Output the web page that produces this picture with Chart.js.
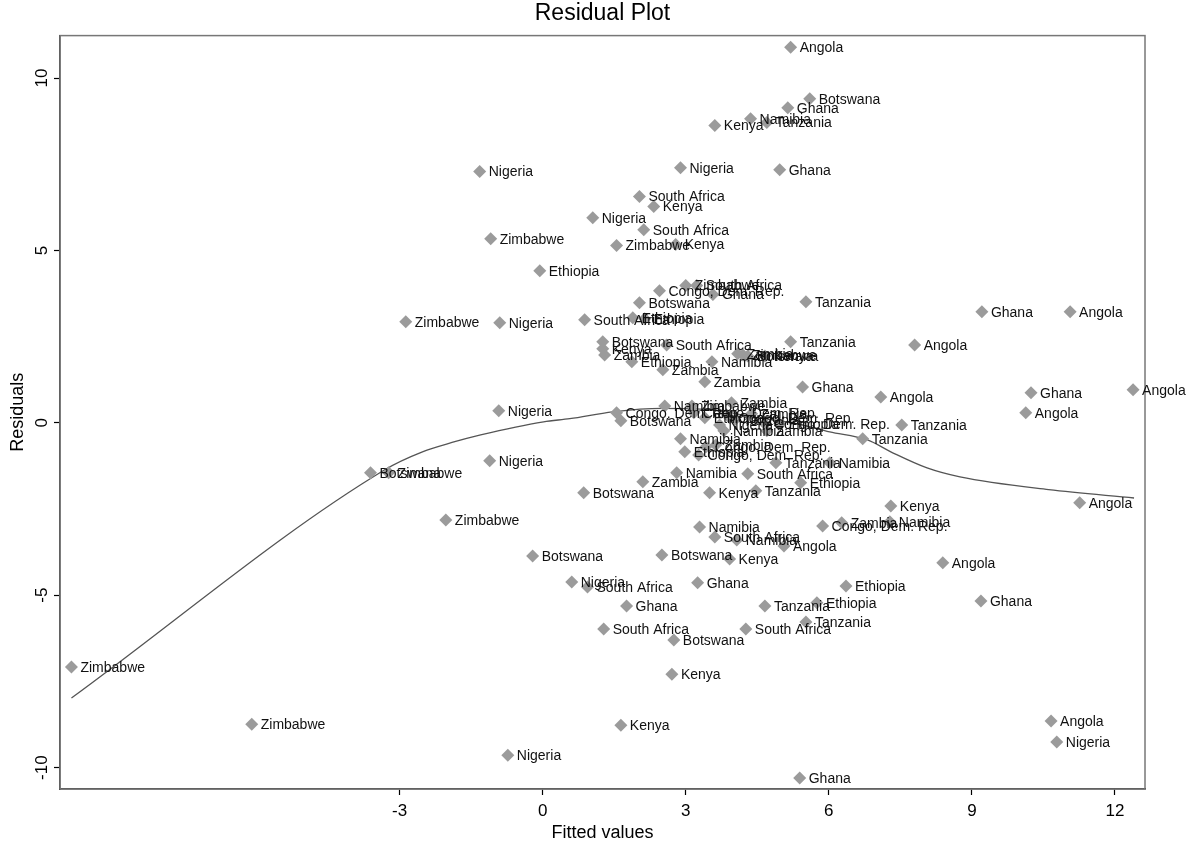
<!DOCTYPE html>
<html>
<head>
<meta charset="utf-8">
<script src="https://cdn.jsdelivr.net/npm/chart.js@4/dist/chart.umd.min.js"></script>
<style>
  html, body { margin: 0; padding: 0; background: #fff; }
  #residChart { display: block; }
</style>
</head>
<body>
<canvas id="residChart" width="1188" height="845"></canvas>
<script>
// Residual plot: fitted values vs residuals, labelled by country, with lowess smoother

const countries = ['Angola', 'Botswana', 'Congo, Dem. Rep.', 'Ethiopia', 'Ghana', 'Kenya',
  'Namibia', 'Nigeria', 'South Africa', 'Tanzania', 'Zambia', 'Zimbabwe'];

const angolaFit = [5.20, 11.06, 7.80, 7.09, 10.13, 12.38, 11.26, 8.39, 10.66, 5.06];
const angolaRes = [10.89, 3.22, 2.26, 0.75, 0.29, 0.96, -2.32, -4.06, -8.65, -3.57];

const botswanaFit = [5.60, 2.03, 1.26, 1.64, -3.61, 0.86, -0.21, 2.50, 2.75, 4.30];
const botswanaRes = [9.40, 3.48, 2.35, 0.06, -1.45, -2.03, -3.86, -3.83, -6.30, 1.94];

const congoFit = [2.45, 1.55, 3.17, 4.66, 5.87, 3.27, 3.42, 3.92];
const congoRes = [3.83, 0.29, 0.29, -0.03, -2.99, -0.93, -0.70, 0.15];

const ethiopiaFit = [-0.06, 1.89, 2.14, 1.87, 5.41, 6.36, 5.75, 3.40, 4.97, 2.98];
const ethiopiaRes = [4.41, 3.05, 3.02, 1.77, -1.74, -4.73, -5.22, 0.15, -0.03, -0.84];

const ghanaFit = [5.14, 4.97, 3.57, 9.21, 5.45, 10.24, 3.25, 1.76, 9.19, 5.39];
const ghanaRes = [9.14, 7.34, 3.72, 3.22, 1.04, 0.87, -4.64, -5.31, -5.17, -10.30];

const kenyaFit = [3.61, 2.33, 2.79, 1.26, 7.30, 3.50, 3.92, 2.71, 1.64, 4.66];
const kenyaRes = [8.62, 6.27, 5.17, 2.15, -2.41, -2.03, -3.95, -7.29, -8.77, 1.94];

const namibiaFit = [4.36, 3.55, 2.56, 3.80, 2.89, 6.02, 2.81, 3.29, 4.07, 7.28];
const namibiaRes = [8.82, 1.77, 0.49, -0.23, -0.46, -1.16, -1.45, -3.02, -3.40, -2.87];

const nigeriaFit = [-1.32, 2.89, 1.05, -0.90, -0.92, -1.11, -0.73, 0.61, 10.78, 3.71];
const nigeriaRes = [7.29, 7.40, 5.95, 2.90, 0.35, -1.10, -9.64, -4.62, -9.26, -0.06];

const southAfricaFit = [2.03, 2.12, 3.23, 0.88, 2.60, 4.30, 3.61, 0.94, 1.28, 4.26];
const southAfricaRes = [6.56, 5.60, 3.98, 2.99, 2.26, -1.48, -3.31, -4.76, -5.98, -5.98];

const tanzaniaFit = [4.70, 5.52, 5.20, 7.53, 6.71, 4.89, 4.47, 4.66, 5.52, 4.03];
const tanzaniaRes = [8.71, 3.51, 2.35, -0.06, -0.46, -1.16, -1.97, -5.31, -5.78, 0.09];

const zambiaFit = [1.30, 2.52, 3.40, 3.96, 4.70, 2.10, 6.27, 4.09, 3.63, 4.38];
const zambiaRes = [1.97, 1.54, 1.19, 0.58, -0.23, -1.71, -2.90, 2.00, -0.64, 0.26];

const zimbabweFit = [-1.09, 1.55, 3.00, -2.87, -3.23, -2.03, -9.88, -6.10, 3.13, 4.20];
const zimbabweRes = [5.34, 5.14, 3.98, 2.93, -1.45, -2.82, -7.08, -8.74, 0.49, 1.97];

// lowess smoother
const lowessFit = [-9.88, -3.31, -2.52, -1.90, -1.30, 0.02, 0.57, 1.47, 2.50, 3.50, 4.50, 5.30, 6.02, 6.80, 7.34, 8.06, 8.75, 10.61, 12.40];
const lowessRes = [-7.98, -1.36, -0.84, -0.57, -0.35, 0.03, 0.12, 0.32, 0.42, 0.38, 0.15, -0.02, -0.26, -0.49, -0.87, -1.31, -1.57, -1.94, -2.18];

const xTicks = [-3, 0, 3, 6, 9, 12];
const yTicks = [-10, -5, 0, 5, 10];

const fitted = [angolaFit, botswanaFit, congoFit, ethiopiaFit, ghanaFit, kenyaFit,
  namibiaFit, nigeriaFit, southAfricaFit, tanzaniaFit, zambiaFit, zimbabweFit];
const resid = [angolaRes, botswanaRes, congoRes, ethiopiaRes, ghanaRes, kenyaRes,
  namibiaRes, nigeriaRes, southAfricaRes, tanzaniaRes, zambiaRes, zimbabweRes];

const FONT = '"Liberation Sans", Arial, Helvetica, sans-serif';

const datasets = countries.map((name, i) => ({
  type: 'scatter',
  label: name,
  data: fitted[i].map((x, j) => ({ x: x, y: resid[i][j] })),
  pointStyle: 'rectRot',
  pointRadius: 6.5,
  pointBackgroundColor: '#9b9b9b',
  pointBorderWidth: 0,
  clip: false,
  order: 0
}));

datasets.push({
  type: 'line',
  label: 'lowess',
  data: lowessFit.map((x, j) => ({ x: x, y: lowessRes[j] })),
  borderColor: '#555',
  borderWidth: 1.3,
  pointRadius: 0,
  fill: false,
  cubicInterpolationMode: 'monotone',
  order: 1
});

// tulis nama negara di samping tiap titik
const pointLabels = {
  id: 'pointLabels',
  afterDatasetsDraw(chart) {
    const ctx = chart.ctx;
    ctx.save();
    ctx.font = '14px ' + FONT;
    ctx.fillStyle = '#111';
    ctx.textBaseline = 'middle';
    ctx.textAlign = 'left';
    chart.data.datasets.forEach((ds, i) => {
      if (ds.type === 'line') return;
      chart.getDatasetMeta(i).data.forEach(pt => {
        ctx.fillText(ds.label, pt.x + 9, pt.y + 1);
      });
    });
    ctx.restore();
  }
};

// kotak di sekeliling area plot
const plotBox = {
  id: 'plotBox',
  beforeDatasetsDraw(chart) {
    const a = chart.chartArea;
    const ctx = chart.ctx;
    ctx.save();
    ctx.strokeStyle = '#777';
    ctx.lineWidth = 1.5;
    ctx.strokeRect(a.left, a.top, a.right - a.left, a.bottom - a.top);
    ctx.restore();
  }
};

new Chart(document.getElementById('residChart').getContext('2d'), {
  type: 'scatter',
  data: { datasets: datasets },
  plugins: [plotBox, pointLabels],
  options: {
    responsive: false,
    animation: false,
    devicePixelRatio: 1,
    layout: { padding: { top: 0, right: 43, bottom: 0, left: 0 } },
    plugins: {
      legend: { display: false },
      tooltip: { enabled: false },
      title: {
        display: true,
        fullSize: false,
        text: 'Residual Plot',
        color: '#000',
        font: { family: FONT, size: 23, weight: 'normal' },
        padding: { top: 0, bottom: 8 }
      }
    },
    scales: {
      x: {
        type: 'linear',
        min: -10.12,
        max: 12.63,
        afterBuildTicks: s => { s.ticks = xTicks.map(v => ({ value: v })); },
        afterFit: s => { s.height = 56; },
        grid: { drawOnChartArea: false, drawTicks: true, tickLength: 6, tickColor: '#000', tickWidth: 1.2 },
        border: { display: true, color: '#222', width: 1.5 },
        ticks: { color: '#000', padding: 6, font: { family: FONT, size: 17 }, maxRotation: 0, autoSkip: false },
        title: {
          display: true,
          text: 'Fitted values',
          color: '#000',
          font: { family: FONT, size: 18 },
          padding: { top: 0, bottom: 1 }
        }
      },
      y: {
        type: 'linear',
        min: -10.62,
        max: 11.23,
        afterBuildTicks: s => { s.ticks = yTicks.map(v => ({ value: v })); },
        afterFit: s => { s.width = 60; },
        grid: { drawOnChartArea: false, drawTicks: true, tickLength: 6, tickColor: '#000', tickWidth: 1.2 },
        border: { display: true, color: '#222', width: 1.5 },
        ticks: {
          color: '#000', padding: -1, minRotation: 90, maxRotation: 90,
          crossAlign: 'center', autoSkip: false,
          font: { family: FONT, size: 17 }
        },
        title: {
          display: true,
          text: 'Residuals',
          color: '#000',
          font: { family: FONT, size: 18 },
          padding: { top: 7, bottom: 0 }
        }
      }
    }
  }
});
</script>
</body>
</html>
